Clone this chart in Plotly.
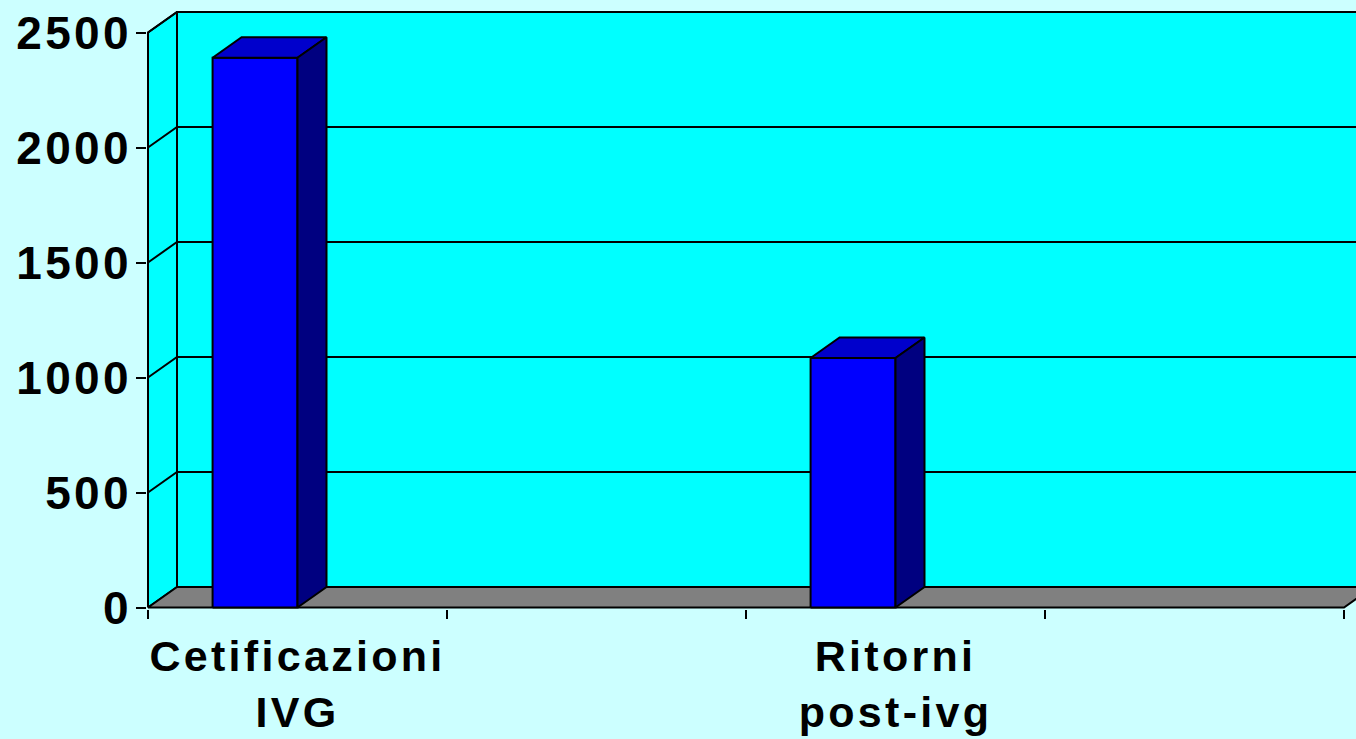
import plotly.graph_objects as go

# ---- data ----
categories = ["Cetificazioni<br>IVG", "", "Ritorni<br>post-ivg", ""]
values = [2390, None, 1085, None]
y_ticks = [0, 500, 1000, 1500, 2000, 2500]

# ---- style ----
PAPER = "#CCFFFF"
WALL = "#00FFFF"
FLOOR = "#808080"
FRONT = "#0000FF"
TOP = "#0000CC"
SIDE = "#000080"
FONT = "Liberation Sans, Arial, sans-serif"

W, H = 1356, 739
PLOT_L, X0_PX = 147, 148          # plot-area left edge, pixel of x=0
PLOT_B, Y0_PX = 609, 607.5         # plot-area bottom edge, pixel of y=0
SLOT_PX = 299                      # pixels per category slot
Y_PX = 575 / 2500                  # pixels per unit on y

x_min = -(X0_PX - PLOT_L) / SLOT_PX
x_max = (W - X0_PX) / SLOT_PX
y_min = -(PLOT_B - Y0_PX) / Y_PX
y_max = Y0_PX / Y_PX

DX = 29 / SLOT_PX                  # 3-D depth offset (x)
DY = 20.5 / Y_PX                   # 3-D depth offset (y)
BAR_L, BAR_R = 0.216, 0.5          # bar front face within its slot
n = len(categories)
ytop = max(y_ticks)
FAR = x_max + 1

fig = go.Figure()


def poly(xs, ys, color):
    fig.add_trace(go.Scatter(
        x=list(xs) + [xs[0]], y=list(ys) + [ys[0]], mode="lines",
        fill="toself", fillcolor=color,
        line=dict(color="black", width=2),
        hoverinfo="skip", showlegend=False))


# left wall
poly([0, DX, DX, 0], [0, DY, ytop + DY, ytop], WALL)
# back wall
poly([DX, FAR, FAR, DX], [DY, DY, ytop + DY, ytop + DY], WALL)
# floor
poly([0, n, n + DX, DX], [0, 0, DY, DY], FLOOR)

# gridlines on left and back walls
gx, gy = [], []
for v in y_ticks[1:]:
    gx += [0, DX, FAR, None]
    gy += [v, v + DY, v + DY, None]
fig.add_trace(go.Scatter(x=gx, y=gy, mode="lines",
                         line=dict(color="black", width=2),
                         hoverinfo="skip", showlegend=False))

# bars
for i, v in enumerate(values):
    if v is None:
        continue
    xl, xr = i + BAR_L, i + BAR_R
    poly([xl, xr, xr, xl], [0, 0, v, v], FRONT)
    poly([xl, xr, xr + DX, xl + DX], [v, v, v + DY, v + DY], TOP)
    poly([xr, xr + DX, xr + DX, xr], [0, DY, v + DY, v], SIDE)

fig.update_layout(
    width=W, height=H,
    margin=dict(l=PLOT_L, r=0, t=0, b=H - PLOT_B, pad=0),
    paper_bgcolor=PAPER, plot_bgcolor=PAPER,
    showlegend=False,
    xaxis=dict(
        range=[x_min, x_max], showgrid=False, zeroline=False, showline=False,
        tickmode="array", tickvals=[i + 0.5 for i in range(n)],
        ticktext=categories, ticks="",
        tickfont=dict(family=FONT, size=43, color="black", weight="bold"),
        ticklabelstandoff=18,
        minor=dict(tickmode="array", tickvals=list(range(n + 1)),
                   ticks="outside", ticklen=9, tickwidth=2,
                   tickcolor="black", showgrid=False),
        fixedrange=True,
    ),
    yaxis=dict(
        range=[y_min, y_max], showgrid=False, zeroline=False, showline=False,
        tickmode="array", tickvals=y_ticks, ticks="outside", ticklen=10,
        tickwidth=2, tickcolor="black",
        tickfont=dict(family=FONT, size=46, color="black", weight="bold"),
        ticklabelstandoff=-5,
        fixedrange=True,
    ),
)

post = """
document.body.style.margin = '0';
document.body.style.background = '#CCFFFF';
document.querySelectorAll('.xtick text, .ytick text').forEach(function(t){
  t.style.letterSpacing = '3.3px';
});
"""

fig.write_html("out.html", post_script=post, config={"displayModeBar": False})
